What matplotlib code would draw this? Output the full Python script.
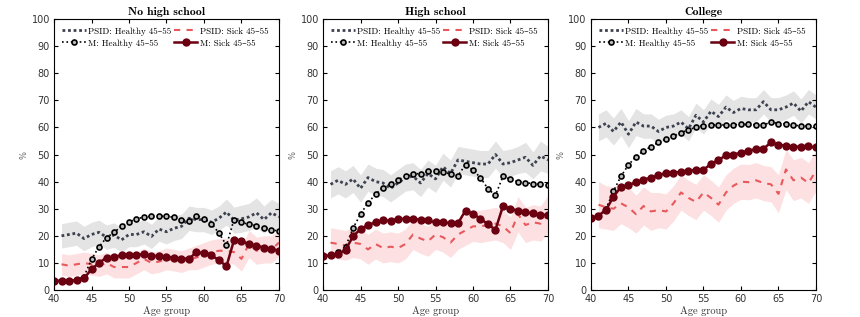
import numpy as np
import matplotlib
matplotlib.use('Agg')
import matplotlib.pyplot as plt

# age groups
age_m = np.arange(40, 71)
age_psid = np.arange(41, 71)

titles = ['No high school', 'High school', 'College']

# model: healthy 45-55
m_healthy = [
    [3.5, 3.5, 3.5, 3.7, 5.0, 11.3, 16.0, 19.3, 21.3, 23.5, 25.2, 26.2, 27.0, 27.2, 27.2, 27.3,
     26.8, 26.0, 25.3, 27.5, 26.3, 24.5, 21.0, 16.5, 26.0, 25.0, 24.2, 23.8, 23.0, 22.3, 21.7],
    [12.5, 12.8, 14.0, 16.0, 22.8, 28.0, 32.2, 35.3, 37.8, 39.2, 40.7, 42.0, 42.8, 43.0, 43.8, 43.8,
     43.5, 42.8, 42.2, 46.3, 44.2, 41.5, 37.3, 35.0, 42.0, 40.8, 40.0, 39.6, 39.3, 39.0, 38.8],
    [26.5, 27.5, 30.0, 36.5, 42.0, 46.2, 49.2, 51.3, 52.9, 54.5, 55.8, 56.8, 58.1, 59.1, 60.1, 60.7,
     60.9, 60.9, 60.9, 61.0, 61.1, 61.1, 61.0, 60.9, 62.0, 61.4, 61.3, 60.8, 60.6, 60.5, 60.4],
]

# model: sick 45-55
m_sick = [
    [3.4, 3.4, 3.4, 3.6, 4.3, 7.7, 10.0, 12.0, 12.3, 12.8, 13.0, 13.0, 13.2, 12.7, 12.5, 12.3,
     12.0, 11.6, 11.6, 13.9, 13.6, 12.8, 11.0, 8.8, 18.4, 18.0, 17.0, 16.4, 15.7, 15.2, 14.5],
    [12.5, 12.8, 13.3, 14.8, 19.8, 22.5, 24.0, 25.0, 25.7, 25.6, 26.2, 26.3, 26.2, 26.0, 25.7, 25.0,
     25.0, 24.7, 24.7, 29.3, 28.0, 26.4, 24.2, 22.3, 31.0, 30.0, 29.3, 28.7, 28.3, 27.8, 27.7],
    [26.5, 27.5, 29.5, 34.5, 38.0, 38.7, 39.8, 40.7, 41.5, 42.3, 43.3, 43.2, 43.7, 44.0, 44.4, 44.4,
     46.5, 48.0, 49.7, 50.0, 50.7, 51.4, 52.0, 52.1, 54.5, 53.6, 53.3, 52.9, 52.9, 53.0, 52.6],
]

# PSID: healthy 45-55 (mean)
psid_healthy = [
    [20.0, 20.5, 21.0, 19.0, 20.5, 21.3, 19.5, 20.3, 18.5, 20.5, 20.5, 21.5, 19.8, 22.5, 21.5,
     22.8, 23.5, 26.5, 26.0, 26.0, 25.0, 26.5, 28.8, 25.8, 26.3, 27.0, 28.5, 26.0, 28.5, 27.0],
    [39.0, 40.5, 39.0, 41.0, 37.5, 41.5, 40.0, 39.5, 37.5, 39.5, 41.5, 42.0, 39.5, 43.0, 41.0,
     45.5, 43.0, 48.0, 47.5, 47.0, 46.5, 46.5, 50.0, 46.5, 47.0, 48.0, 49.0, 46.0, 49.5, 48.0],
    [60.0, 61.5, 58.5, 62.0, 57.5, 62.0, 60.5, 60.5, 58.5, 60.0, 60.5, 62.0, 59.5, 64.5, 62.0,
     66.0, 64.0, 67.5, 65.5, 67.0, 66.5, 66.5, 69.5, 66.5, 66.5, 67.5, 69.0, 66.0, 69.5, 67.5],
]
psid_healthy_se = [
    [4.5, 4.5, 4.5, 4.5, 4.5, 4.5, 4.5, 4.5, 4.5, 4.5, 4.5, 4.5, 4.5, 4.5, 4.5,
     4.5, 4.5, 4.5, 4.5, 4.5, 4.5, 4.5, 4.8, 4.8, 5.0, 5.0, 5.5, 5.0, 5.0, 5.0],
    [5.0, 5.0, 5.0, 5.0, 5.0, 5.0, 5.0, 5.0, 5.0, 5.0, 5.0, 5.0, 5.0, 5.0, 5.0,
     5.0, 5.0, 5.0, 5.0, 5.0, 5.0, 5.0, 5.0, 5.0, 5.0, 5.0, 5.5, 5.0, 5.5, 5.0],
    [5.0, 5.0, 5.0, 5.0, 5.0, 5.0, 4.5, 4.5, 4.5, 4.5, 4.5, 4.5, 4.5, 4.5, 4.5,
     4.5, 4.5, 4.5, 4.5, 4.5, 4.5, 4.5, 4.5, 4.5, 4.5, 4.5, 4.5, 4.5, 4.5, 4.5],
]

# PSID: sick 45-55 (mean)
psid_sick = [
    [9.5, 9.0, 9.5, 10.0, 9.5, 9.0, 10.0, 8.5, 8.5, 8.5, 10.0, 11.5, 10.0, 10.5, 11.5,
     11.0, 10.5, 11.5, 12.0, 13.0, 14.0, 14.5, 14.5, 14.0, 11.5, 17.0, 14.5, 15.0, 15.0, 17.5],
    [17.5, 17.0, 16.5, 17.5, 17.0, 15.0, 17.0, 15.5, 16.0, 15.5, 17.0, 20.5, 19.0, 18.0, 20.5,
     19.5, 17.5, 20.5, 22.0, 23.5, 23.5, 24.0, 24.5, 23.5, 21.0, 28.0, 24.0, 25.0, 24.5, 28.0],
    [31.5, 30.5, 30.0, 32.0, 30.5, 28.0, 31.0, 29.0, 29.5, 29.0, 32.0, 36.0, 34.0, 32.5, 36.0,
     34.0, 31.5, 36.0, 38.5, 40.0, 39.8, 40.5, 39.5, 39.0, 35.5, 44.5, 40.5, 41.5, 39.5, 44.0],
]
psid_sick_se = [
    [4.0, 4.0, 4.0, 4.0, 4.0, 4.0, 4.0, 4.0, 4.0, 4.0, 4.0, 4.0, 4.0, 4.0, 4.0,
     4.0, 4.0, 4.0, 4.5, 4.5, 4.5, 4.5, 4.5, 4.5, 4.5, 5.0, 5.0, 5.0, 5.0, 5.0],
    [5.5, 5.5, 5.5, 5.5, 5.5, 5.5, 5.5, 5.5, 5.5, 5.5, 5.5, 5.5, 5.5, 5.5, 5.5,
     5.5, 5.5, 5.5, 5.5, 5.5, 6.0, 6.0, 6.0, 6.0, 6.0, 6.5, 6.5, 6.5, 6.5, 7.0],
    [8.5, 8.0, 8.0, 7.5, 7.5, 7.0, 7.0, 7.0, 6.5, 6.5, 6.5, 6.5, 6.5, 6.5, 6.5,
     6.5, 6.5, 6.5, 6.5, 6.5, 6.5, 6.5, 6.5, 6.5, 7.0, 7.5, 7.5, 7.5, 7.5, 7.5],
]

col_ph = '#3d4250'
col_ps = '#e8585c'
col_ms = '#6a0010'
serif = ['cmr10', 'DejaVu Serif']
serif_b = ['cmb10', 'DejaVu Serif']

fig = plt.figure(figsize=(8.6, 3.17), dpi=100)
lefts = [0.0628, 0.3756, 0.6872]

for i in range(3):
    ax = fig.add_axes([lefts[i], 0.085, 0.2616, 0.855])
    ph = np.array(psid_healthy[i])
    ps = np.array(psid_sick[i])
    ax.fill_between(age_psid, ph - np.array(psid_healthy_se[i]), ph + np.array(psid_healthy_se[i]),
                    color='#e4e4e4', lw=0)
    ax.fill_between(age_psid, ps - np.array(psid_sick_se[i]), ps + np.array(psid_sick_se[i]),
                    color='#fde0e1', lw=0)
    l1, = ax.plot(age_psid, ph, ls=(0, (1, 1)), lw=2.0, color=col_ph, label='PSID: Healthy 45–55')
    l2, = ax.plot(age_psid, ps, ls=(0, (3, 3)), lw=1.5, color=col_ps, label='PSID: Sick 45–55')
    l3, = ax.plot(age_m, m_healthy[i], ls=':', lw=1.2, color='black', marker='o', ms=3.6,
                  mfc='#bbbbbb', mec='black', mew=1.2, label='M: Healthy 45–55')
    l4, = ax.plot(age_m, m_sick[i], ls='-', lw=1.8, color=col_ms, marker='o', ms=5.0,
                  mfc=col_ms, mec=col_ms, label='M: Sick 45–55')

    ax.set_xlim(40, 70)
    ax.set_ylim(0, 100)
    ax.set_xticks(np.arange(40, 71, 5))
    ax.set_yticks(np.arange(0, 101, 10))
    ax.tick_params(axis='both', direction='in', top=True, right=True, length=3, labelsize=7,
                   labelcolor='#333333', pad=3)
    ax.set_title(titles[i], fontsize=8.5, family=serif_b, fontweight='bold', pad=3)
    ax.set_xlabel('Age group', fontsize=7.5, family=serif, labelpad=1, color='#333333')
    ax.set_ylabel('%', fontsize=6, labelpad=2, color='#666666')
    ax.legend(handles=[l1, l3, l2, l4], ncol=2, loc='upper left', frameon=False,
              prop={'family': serif, 'size': 6.5}, handlelength=2.6, handletextpad=0.25,
              columnspacing=0.3, labelspacing=0.4, borderaxespad=0.7, borderpad=0.2)

fig.savefig('out.png', dpi=100)
